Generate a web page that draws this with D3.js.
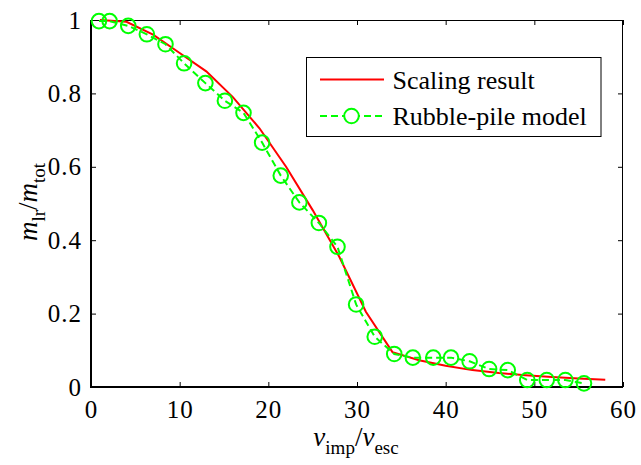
<!DOCTYPE html>
<html>
<head>
<meta charset="utf-8">
<script src="https://cdn.jsdelivr.net/npm/d3@7/dist/d3.min.js"></script>
<style>
  html, body { margin: 0; padding: 0; background: #fff; }
  svg { display: block; }
  svg text { font-family: "Liberation Serif", "LiberationSerif", "Times New Roman", Times, Tinos, "DejaVu Serif", "Noto Serif", serif !important; fill: #000; }
</style>
</head>
<body>
<svg id="chart" width="641" height="465"></svg>
<script>
// ---- data ----
const scalingX = [1, 4, 7, 10, 13, 16, 19, 22, 25, 28, 31, 34, 37, 40, 43, 46, 49, 52, 55, 58];
const scalingY = [1.0, 0.995, 0.96, 0.91, 0.86, 0.79, 0.705, 0.60, 0.482, 0.355, 0.205, 0.095, 0.073, 0.058, 0.046, 0.038, 0.032, 0.027, 0.023, 0.020];

const rubbleX = [0.9, 2.1, 4.2, 6.3, 8.4, 10.5, 12.9, 15.1, 17.2, 19.3, 21.4, 23.5, 25.7, 27.8, 29.9, 32.0, 34.2, 36.3, 38.6, 40.6, 42.7, 44.9, 47.0, 49.2, 51.4, 53.5, 55.6];
const rubbleY = [0.997, 0.997, 0.984, 0.961, 0.934, 0.882, 0.828, 0.780, 0.747, 0.666, 0.576, 0.503, 0.447, 0.382, 0.225, 0.137, 0.090, 0.080, 0.080, 0.080, 0.070, 0.049, 0.046, 0.019, 0.019, 0.019, 0.010];

const xTicks = [0, 10, 20, 30, 40, 50, 60];
const xTickLabels = ["0", "10", "20", "30", "40", "50", "60"];
const yTicks = [0, 0.2, 0.4, 0.6, 0.8, 1];
const yTickLabels = ["0", "0.2", "0.4", "0.6", "0.8", "1"];

const seriesNames = ["Scaling result", "Rubble-pile model"];

// ---- layout ----
const FONT = '"Liberation Serif", "Times New Roman", Times, Tinos, "DejaVu Serif", serif';
const svg = d3.select("#chart");
const L = 91, R = 623, T = 20, B = 387;
const x = d3.scaleLinear().domain([0, 60]).range([L, R]);
const y = d3.scaleLinear().domain([0, 1]).range([B, T]);
const RED = "#ff0000", GREEN = "#00ff00";

// ---- axes (ticks inward) ----
const tickFmtX = (d) => xTickLabels[xTicks.indexOf(d)];
const tickFmtY = (d) => yTickLabels[yTicks.indexOf(d)];

const gx = svg.append("g").attr("transform", `translate(0,${B})`)
  .call(d3.axisBottom(x).tickValues(xTicks).tickFormat(tickFmtX).tickSizeInner(-5).tickSizeOuter(0).tickPadding(13));
const gy = svg.append("g").attr("transform", `translate(${L},0)`)
  .call(d3.axisLeft(y).tickValues(yTicks).tickFormat(tickFmtY).tickSizeInner(-5).tickSizeOuter(0).tickPadding(9));
const gxt = svg.append("g").attr("transform", `translate(0,${T})`)
  .call(d3.axisTop(x).tickValues(xTicks).tickFormat("").tickSizeInner(-5).tickSizeOuter(0));
const gyr = svg.append("g").attr("transform", `translate(${R},0)`)
  .call(d3.axisRight(y).tickValues(yTicks).tickFormat("").tickSizeInner(-5).tickSizeOuter(0));

[gx, gy, gxt, gyr].forEach(g => {
  g.attr("font-family", FONT);
  g.selectAll("path.domain").remove();
  g.selectAll(".tick line").attr("stroke", "#000").attr("stroke-width", 1);
  g.selectAll(".tick text").style("font-size", "25px").style("font-family", FONT).attr("letter-spacing", "1px");
});
gx.selectAll(".tick text").attr("dy", "0.71em");

// frame
svg.append("line").attr("x1", L).attr("x2", R).attr("y1", T + 0.5).attr("y2", T + 0.5).attr("stroke", "#000").attr("stroke-width", 1);
svg.append("line").attr("x1", R - 0.5).attr("x2", R - 0.5).attr("y1", T).attr("y2", B).attr("stroke", "#000").attr("stroke-width", 1);
svg.append("line").attr("x1", L).attr("x2", L).attr("y1", T).attr("y2", B + 1).attr("stroke", "#000").attr("stroke-width", 2);
svg.append("line").attr("x1", L - 1).attr("x2", R).attr("y1", B).attr("y2", B).attr("stroke", "#000").attr("stroke-width", 2);

// ---- series ----
const scaling = scalingX.map((v, i) => [v, scalingY[i]]);
const rubble = rubbleX.map((v, i) => [v, rubbleY[i]]);
const line = d3.line().x(d => x(d[0])).y(d => y(d[1]));

svg.append("path").datum(scaling).attr("d", line)
  .attr("fill", "none").attr("stroke", RED).attr("stroke-width", 2);

svg.append("path").datum(rubble).attr("d", line)
  .attr("fill", "none").attr("stroke", GREEN).attr("stroke-width", 2).attr("stroke-dasharray", "7,4");

svg.append("g").selectAll("circle").data(rubble).join("circle")
  .attr("cx", d => x(d[0])).attr("cy", d => y(d[1])).attr("r", 7.3)
  .attr("fill", "none").attr("stroke", GREEN).attr("stroke-width", 2);

// ---- legend ----
const lg = svg.append("g");
lg.append("rect").attr("x", 306.5).attr("y", 57.5).attr("width", 294.5).attr("height", 79)
  .attr("fill", "#fff").attr("stroke", "#000").attr("stroke-width", 1);
lg.append("line").attr("x1", 320).attr("x2", 384).attr("y1", 79.5).attr("y2", 79.5)
  .attr("stroke", RED).attr("stroke-width", 2);
lg.append("line").attr("x1", 320).attr("x2", 384).attr("y1", 116).attr("y2", 116)
  .attr("stroke", GREEN).attr("stroke-width", 2).attr("stroke-dasharray", "7,4");
lg.append("circle").attr("cx", 351.5).attr("cy", 116).attr("r", 7.3)
  .attr("fill", "#fff").attr("stroke", GREEN).attr("stroke-width", 2);
lg.append("text").attr("x", 392.5).attr("y", 89).style("font-family", FONT).style("font-size", "26px").text(seriesNames[0]);
lg.append("text").attr("x", 392.5).attr("y", 125).style("font-family", FONT).style("font-size", "26px").text(seriesNames[1]);

// ---- axis titles ----
const xt = svg.append("text").attr("x", 356).attr("y", 446).attr("text-anchor", "middle")
  .style("font-family", FONT).style("font-size", "27px");
xt.append("tspan").style("font-style", "italic").text("v");
xt.append("tspan").attr("dy", 8).style("font-size", "19px").text("imp");
xt.append("tspan").attr("dy", -8).text("/");
xt.append("tspan").style("font-style", "italic").text("v");
xt.append("tspan").attr("dy", 8).style("font-size", "19px").text("esc");

const yt = svg.append("text").attr("transform", "translate(37,202) rotate(-90)").attr("text-anchor", "middle")
  .style("font-family", FONT).style("font-size", "27px");
yt.append("tspan").style("font-style", "italic").text("m");
yt.append("tspan").attr("dy", 8).style("font-size", "19px").text("lr");
yt.append("tspan").attr("dy", -8).text("/");
yt.append("tspan").style("font-style", "italic").text("m");
yt.append("tspan").attr("dy", 8).style("font-size", "19px").text("tot");
</script>
</body>
</html>
